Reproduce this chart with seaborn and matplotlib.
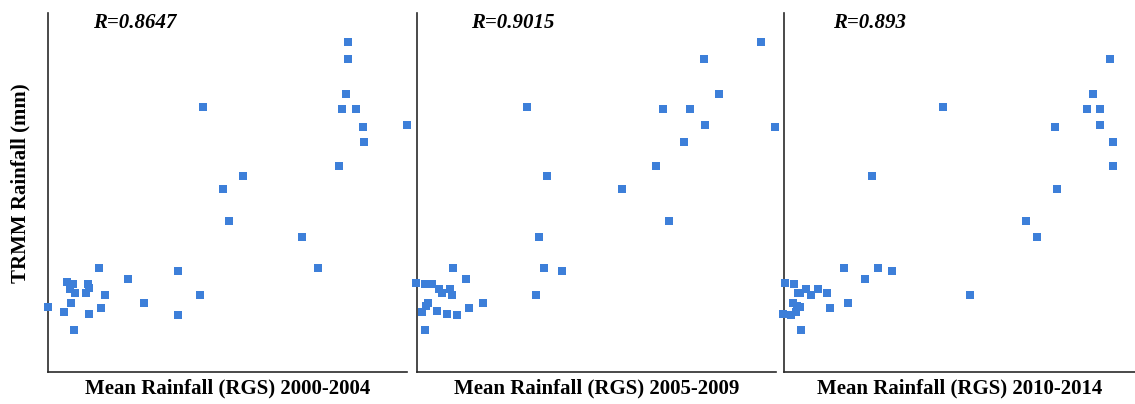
import matplotlib
matplotlib.use("Agg")
import matplotlib.pyplot as plt
import seaborn as sns
import pandas as pd

# ---- data (arbitrary units) ----
x_2000_2004 = [51.3, 18.7, 25, 22, 26.7, 40, 40.7, 37.7, 57.3, 0, 23.3, 15.5, 53, 40.5, 26,
               80.3, 96.3, 130.3, 129.7, 151.7, 154.7, 175.3, 181, 195.3, 254, 270,
               300, 300, 298, 294, 308.3, 315, 315.7, 291, 359]
y_2000_2004 = [103.7, 90, 88.5, 83.5, 79.5, 88.3, 84, 78.7, 77.3, 65.3, 68.7, 60.3, 64, 58, 41.7,
               92.7, 68.7, 101.3, 57, 76.7, 265, 183, 151.3, 196.3, 135.3, 103.7,
               330, 312.7, 278, 262.7, 263, 245.3, 230, 206.3, 247]

x_2005_2009 = [-1, 8, 14.7, 22, 25.3, 33, 35.3, 36.3, 48.7, 11, 9, 5.3, 20.3, 29.7, 39.7, 51.7,
               65.7, 8, 109.7, 130.3, 122, 127.3, 144.7, 119, 205.3, 239.3, 252, 246,
               266.7, 273.3, 287, 288, 302, 344, 358.3]
y_2005_2009 = [89.3, 88.3, 88.3, 82.7, 79.3, 83.3, 77.3, 103.7, 92.7, 68.7, 66, 59.7, 61, 58.3, 57, 64,
               68.7, 41.7, 265, 196.3, 135.3, 103.7, 101.3, 76.7, 183, 206.3, 151.3, 262.7,
               230, 263, 312.7, 247, 278, 330, 245]

x_2010_2014 = [1, 9.7, 13.7, 16, 22.2, 27, 33.8, 42.7, 59.7, 81, 94.3, 108.3, 186, 64.3, 46,
               9.3, 12.7, 15.5, 11.5, 6.5, -0.7, 16.5, 88.3, 159, 242, 253.3, 270.7, 273.3,
               303.3, 308.7, 316, 315.7, 325.7, 329.3, 329.3]
y_2010_2014 = [89.5, 88.3, 79.5, 78.7, 83.5, 77.2, 82.8, 79.5, 103.7, 92.7, 103.7, 101.3, 76.7, 68.7, 64,
               68.7, 66.5, 65.5, 60.3, 57, 58.3, 41.7, 196.3, 265, 151.3, 135.3, 245, 183,
               262.7, 278, 263, 247, 312.7, 230, 206.3]

periods = ["2000-2004", "2005-2009", "2010-2014"]
r_values = ["R=0.8647", "R=0.9015", "R=0.893"]
xs = [x_2000_2004, x_2005_2009, x_2010_2014]
ys = [y_2000_2004, y_2005_2009, y_2010_2014]

sns.set_theme(style="white")
plt.rcParams['font.family'] = ['Liberation Serif', 'DejaVu Serif']

W, H = 1135, 404
fig = plt.figure(figsize=(W / 100, H / 100), dpi=100)
fig.patch.set_facecolor("white")

axes_px = [(48, 359), (417, 359), (784, 351)]
bottom_px, top_px = 372, 13
r_offsets = [45, 54, 49]
color = "#3d7fd9"

for i, (left, width) in enumerate(axes_px):
    ax = fig.add_axes([left / W, (H - bottom_px) / H, width / W, (bottom_px - top_px) / H])
    df = pd.DataFrame({"x": xs[i], "y": ys[i]})
    sns.scatterplot(data=df, x="x", y="y", ax=ax, marker="s", s=34, color=color,
                    linewidth=0, clip_on=False, zorder=3)
    ax.set_xlim(0, width)
    ax.set_ylim(0, bottom_px - top_px)
    ax.set_xticks([])
    ax.set_yticks([])
    for s in ["top", "right"]:
        ax.spines[s].set_visible(False)
    for s in ["left", "bottom"]:
        ax.spines[s].set_color("#2a2a2a")
        ax.spines[s].set_linewidth(1.2)
    ax.set_facecolor("white")
    ax.set_xlabel(f"Mean Rainfall (RGS) {periods[i]}", fontsize=15, fontweight="bold",
                  labelpad=5, color="black")
    ax.set_ylabel("")
    ax.text(r_offsets[i], 349, r_values[i], fontsize=15, fontweight="bold",
            fontstyle="italic", ha="left", va="center", color="black")

fig.text(20 / W, 1 - 183 / H, "TRMM Rainfall (mm)", rotation=90, fontsize=15,
         fontweight="bold", ha="center", va="center", color="black")

fig.savefig("out.png", dpi=100, facecolor="white")
